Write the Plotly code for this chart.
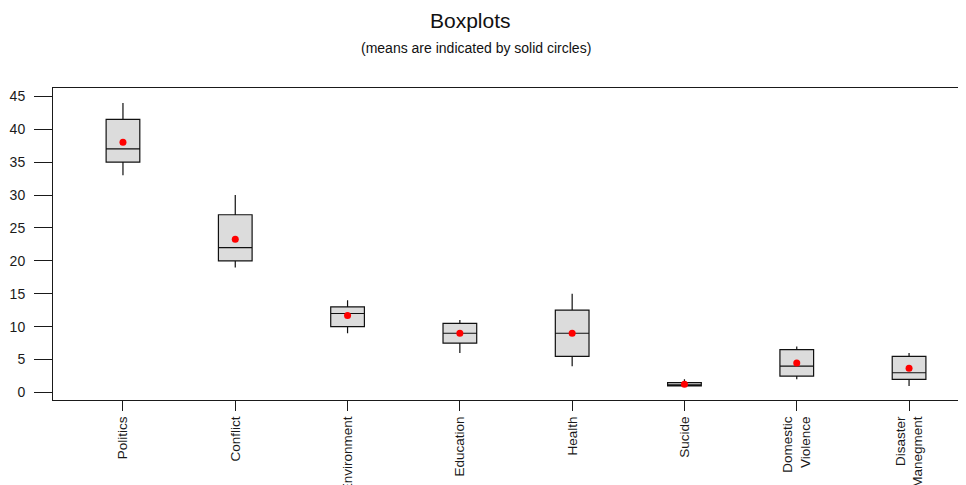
import plotly.graph_objects as go

categories = ["Politics", "Conflict", "Environment", "Education", "Health",
              "Sucide", "Domestic<br>Violence", "Disaster<br>Manegment"]
lower_whisker = [33, 19, 9, 6, 4, 1, 2, 1]
q1_values = [35, 20, 10, 7.5, 5.5, 1, 2.5, 2]
medians = [37, 22, 12, 9, 9, 1, 4, 3]
q3_values = [41.5, 27, 13, 10.5, 12.5, 1.5, 6.5, 5.5]
upper_whisker = [44, 30, 14, 11, 15, 2, 7, 6]
means = [38, 23.3, 11.7, 9, 9, 1.25, 4.5, 3.7]
y_ticks = [0, 5, 10, 15, 20, 25, 30, 35, 40, 45]

FONT = "Liberation Sans, Arial, sans-serif"
positions = list(range(len(categories)))

# page has an 8px body margin; margins below are in figure pixels
M_L, M_R, M_T, M_B = 45, 8, 80, 93
PLOT_H = 485 - M_T - M_B
PLOT_W = 966 - M_L - M_R
OFF = 8


def paper_y(page_px):
    return (485 - M_B - (page_px - OFF)) / PLOT_H


def paper_x(page_px):
    return ((page_px - OFF) - M_L) / PLOT_W


fig = go.Figure()
for i in positions:
    fig.add_trace(go.Box(
        x=[i], q1=[q1_values[i]], median=[medians[i]], q3=[q3_values[i]],
        lowerfence=[lower_whisker[i]], upperfence=[upper_whisker[i]],
        width=0.3, whiskerwidth=0,
        fillcolor="#DCDCDC", line=dict(color="#111111", width=1.2),
        boxpoints=False, showlegend=False, hoverinfo="y",
    ))

fig.add_trace(go.Scatter(
    x=positions, y=means, mode="markers",
    marker=dict(color="#FF0000", size=7),
    showlegend=False,
))

fig.update_layout(
    width=966, height=485,
    margin=dict(l=M_L, r=M_R, t=M_T, b=M_B, autoexpand=False),
    plot_bgcolor="white", paper_bgcolor="white",
    font=dict(family=FONT, size=13, color="#1a1a1a"),
    annotations=[
        dict(text="Boxplots", x=paper_x(470), y=paper_y(20), xref="paper", yref="paper",
             xanchor="center", yanchor="middle", showarrow=False,
             font=dict(size=21, family=FONT, color="#111")),
        dict(text="(means are indicated by solid circles)", x=paper_x(476), y=paper_y(48),
             xref="paper", yref="paper", xanchor="center", yanchor="middle",
             showarrow=False, font=dict(size=14, family=FONT, color="#111")),
    ],
)

fig.update_xaxes(
    range=[-0.623, 7.507], tickmode="array", tickvals=positions, ticktext=categories,
    tickangle=-90, ticks="outside", ticklen=10, tickcolor="#1a1a1a",
    showline=True, linecolor="#1a1a1a", linewidth=1, mirror=True,
    showgrid=False, zeroline=False, tickfont=dict(size=13.5, family=FONT),
    automargin=False,
)
fig.update_yaxes(
    range=[-1.14, 46.26], tickmode="array", tickvals=y_ticks,
    ticks="outside", ticklen=18, tickcolor="#1a1a1a", ticklabelstandoff=6,
    showline=True, linecolor="#1a1a1a", linewidth=1,
    showgrid=False, zeroline=False, tickfont=dict(size=14, family=FONT),
    automargin=False,
)

fig.write_html("out.html")
